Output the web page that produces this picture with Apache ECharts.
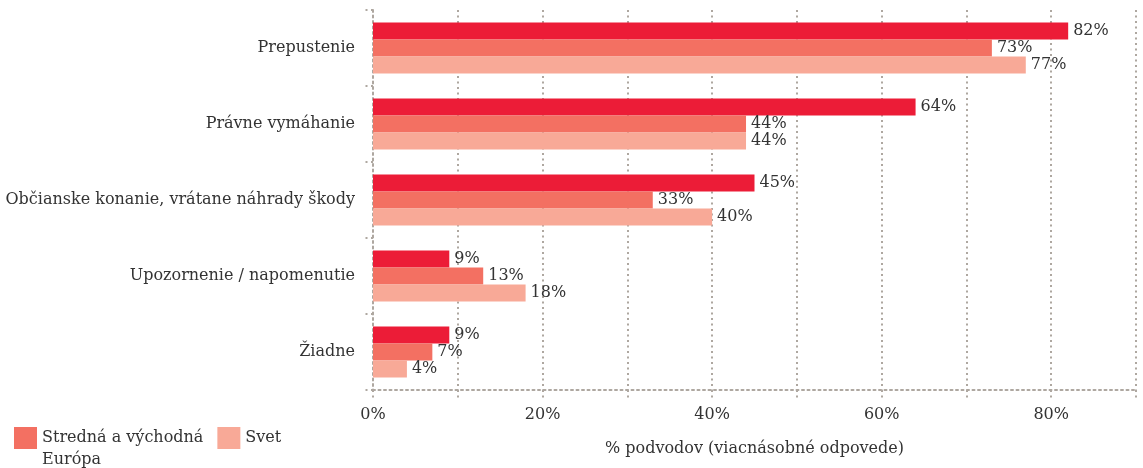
<!DOCTYPE html>
<html>
<head>
<meta charset="utf-8">
<script src="https://cdn.jsdelivr.net/npm/echarts@6/dist/echarts.min.js"></script>
<style>
  html, body { margin: 0; padding: 0; background: #fff; }
  #chart { width: 1143px; height: 468px; }
</style>
</head>
<body>
<div id="chart"></div>
<script>
// Spôsoby riešenia podvodov (% podvodov, viacnásobné odpovede)
const categories = [
  'Prepustenie',
  'Právne vymáhanie',
  'Občianske konanie, vrátane náhrady škody',
  'Upozornenie / napomenutie',
  'Žiadne'
];
const seriesNames = ['Slovensko', 'Stredná a východná Európa', 'Svet'];
const valuesSK = [82, 64, 45, 9, 9];
const valuesCEE = [73, 44, 33, 13, 7];
const valuesWorld = [77, 44, 40, 18, 4];
const xTickLabels = ['0%', '20%', '40%', '60%', '80%'];

const FONT = '"DejaVu Serif", serif';
const TEXT = '#333333';
const DOT = '#aea7a0';
const colors = ['#ec1c37', '#f37062', '#f8a997'];

const dotted = { color: DOT, type: [2, 3.5], width: 2 };

function barSeries(name, data, color) {
  return {
    name: name,
    type: 'bar',
    data: data,
    barWidth: 17,
    barGap: '0%',
    itemStyle: { color: color },
    label: {
      show: true,
      position: 'right',
      distance: 5,
      formatter: '{c}%',
      color: TEXT,
      fontFamily: FONT,
      fontSize: 16
    },
    emphasis: { disabled: true }
  };
}

const chart = echarts.init(document.getElementById('chart'), null, { renderer: 'canvas' });
chart.setOption({
  animation: false,
  grid: { left: 373, right: 7, top: 10, bottom: 78, containLabel: false },
  legend: {
    left: 14,
    top: 405,
    padding: 0,
    itemWidth: 23,
    itemHeight: 22,
    itemGap: 14,
    icon: 'rect',
    data: [seriesNames[1], seriesNames[2]],
    // the leading empty line keeps the first line level with the swatch
    formatter: function (n) {
      return n === seriesNames[1] ? '\nStredná a východná\nEurópa' : n;
    },
    textStyle: { color: TEXT, fontFamily: FONT, fontSize: 16, lineHeight: 22 }
  },
  xAxis: {
    type: 'value',
    min: 0,
    max: 90,
    interval: 10,
    name: '% podvodov (viacnásobné odpovede)',
    nameLocation: 'middle',
    nameGap: 51,
    nameTextStyle: { color: TEXT, fontFamily: FONT, fontSize: 16 },
    axisLine: { show: true, lineStyle: dotted },
    axisTick: { show: true, length: 8, lineStyle: dotted },
    axisLabel: {
      color: TEXT,
      fontFamily: FONT,
      fontSize: 16,
      margin: 17,
      formatter: function (v) {
        return v % 20 === 0 ? xTickLabels[v / 20] : '';
      }
    },
    splitLine: { show: true, lineStyle: dotted }
  },
  yAxis: {
    type: 'category',
    data: categories,
    inverse: true,
    axisLine: { show: true, lineStyle: dotted },
    axisTick: { show: true, length: 11, lineStyle: dotted },
    axisLabel: {
      color: TEXT,
      fontFamily: FONT,
      fontSize: 16,
      margin: 18,
      padding: [0, 0, 6, 0]
    },
    splitLine: { show: false }
  },
  series: [
    barSeries(seriesNames[0], valuesSK, colors[0]),
    barSeries(seriesNames[1], valuesCEE, colors[1]),
    barSeries(seriesNames[2], valuesWorld, colors[2])
  ]
});
</script>
</body>
</html>
